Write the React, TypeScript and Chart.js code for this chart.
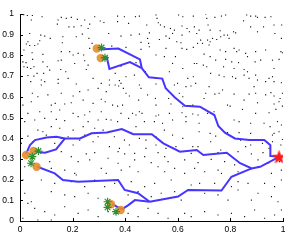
import React, { useEffect, useRef } from "react";
import { Chart, registerables } from "chart.js";
Chart.register(...registerables);

const xTickValues = [0, 0.2, 0.4, 0.6, 0.8, 1];
const yTickValues = [0, 0.1, 0.2, 0.3, 0.4, 0.5, 0.6, 0.7, 0.8, 0.9, 1];

const goal: [number, number][] = [[0.985, 0.31]];

const startCircles: [number, number][] = [
  [0.292, 0.833], [0.307, 0.787], [0.023, 0.319], [0.051, 0.338], [0.063, 0.262], [0.346, 0.081], [0.383, 0.053],
];

const targetMarks: [number, number][] = [
  [0.31, 0.838], [0.323, 0.789], [0.07, 0.338], [0.047, 0.311], [0.042, 0.279], [0.333, 0.093], [0.333, 0.066], [0.365, 0.045],
];

const pathUpperTrunk: [number, number][] = [
  [0.985, 0.31], [0.954, 0.314], [0.952, 0.366], [0.929, 0.391], [0.872, 0.391], [0.817, 0.399], [0.779, 0.427],
  [0.754, 0.459], [0.739, 0.512], [0.684, 0.552], [0.627, 0.557], [0.589, 0.597], [0.554, 0.641], [0.541, 0.688],
  [0.49, 0.694], [0.463, 0.738],
];
const pathA: [number, number][] = [[0.463, 0.738], [0.456, 0.781], [0.374, 0.833], [0.295, 0.829]];
const pathB: [number, number][] = [[0.463, 0.738], [0.418, 0.768], [0.34, 0.734], [0.33, 0.791], [0.308, 0.786]];

const pathMidTrunk: [number, number][] = [
  [0.985, 0.31], [0.913, 0.262], [0.881, 0.254], [0.837, 0.279], [0.786, 0.33], [0.697, 0.319], [0.672, 0.343],
  [0.608, 0.335], [0.545, 0.375], [0.501, 0.419], [0.431, 0.419], [0.387, 0.444], [0.33, 0.428], [0.272, 0.424],
  [0.228, 0.399], [0.171, 0.399],
];
const pathC: [number, number][] = [[0.171, 0.399], [0.139, 0.407], [0.101, 0.403], [0.057, 0.391], [0.038, 0.367], [0.023, 0.324]];
const pathD: [number, number][] = [[0.171, 0.399], [0.137, 0.346], [0.095, 0.33], [0.054, 0.335]];

const pathLowTrunk: [number, number][] = [
  [0.881, 0.254], [0.804, 0.214], [0.766, 0.147], [0.639, 0.15], [0.601, 0.118], [0.493, 0.093],
];
const pathE: [number, number][] = [
  [0.493, 0.093], [0.449, 0.134], [0.398, 0.15], [0.373, 0.198], [0.221, 0.19], [0.163, 0.198], [0.132, 0.23], [0.066, 0.262],
];
const pathF: [number, number][] = [[0.493, 0.093], [0.437, 0.101], [0.412, 0.077], [0.387, 0.056]];
const pathG: [number, number][] = [[0.387, 0.056], [0.351, 0.081]];

const obstacles: [number, number][] = [
  [0.014, 0.997], [0.028, 0.993], [0.047, 0.993], [0.043, 0.971], [0.084, 0.987], [0.145, 0.971], [0.157, 0.984],
  [0.176, 0.979], [0.195, 0.984], [0.218, 0.974], [0.246, 0.971], [0.284, 0.987], [0.305, 0.966], [0.319, 0.959],
  [0.142, 0.951], [0.186, 0.938], [0.205, 0.938], [0.233, 0.943], [0.259, 0.93], [0.265, 0.951], [0.037, 0.906],
  [0.079, 0.898], [0.094, 0.893], [0.115, 0.882], [0.163, 0.89], [0.214, 0.89], [0.237, 0.903], [0.262, 0.882],
  [0.274, 0.858], [0.024, 0.855], [0.037, 0.848], [0.056, 0.848], [0.068, 0.855], [0.075, 0.871], [0.03, 0.866],
  [0.161, 0.861], [0.015, 0.826], [0.046, 0.813], [0.087, 0.805], [0.157, 0.818], [0.189, 0.818], [0.202, 0.802],
  [0.221, 0.81], [0.242, 0.802], [0.265, 0.834], [0.011, 0.769], [0.023, 0.765], [0.048, 0.781], [0.087, 0.769],
  [0.145, 0.774], [0.157, 0.777], [0.208, 0.761], [0.246, 0.774], [0.015, 0.745], [0.028, 0.742], [0.041, 0.737],
  [0.053, 0.745], [0.104, 0.745], [0.113, 0.729], [0.065, 0.713], [0.09, 0.713], [0.155, 0.732], [0.174, 0.721],
  [0.252, 0.732], [0.259, 0.753], [0.03, 0.703], [0.053, 0.7], [0.081, 0.681], [0.145, 0.684], [0.183, 0.689],
  [0.278, 0.689],
  [0.371, 0.99], [0.397, 0.987], [0.439, 0.987], [0.454, 0.99], [0.517, 0.995], [0.521, 0.979], [0.603, 0.995],
  [0.619, 0.987], [0.659, 0.99], [0.371, 0.963], [0.413, 0.955], [0.482, 0.947], [0.526, 0.958], [0.534, 0.947],
  [0.549, 0.938], [0.572, 0.93], [0.587, 0.922], [0.616, 0.942], [0.635, 0.93], [0.663, 0.938], [0.337, 0.906],
  [0.384, 0.893], [0.422, 0.898], [0.454, 0.903], [0.492, 0.909], [0.555, 0.893], [0.58, 0.906], [0.616, 0.898],
  [0.644, 0.914], [0.485, 0.882], [0.46, 0.863], [0.489, 0.858], [0.53, 0.877], [0.568, 0.882], [0.596, 0.866],
  [0.612, 0.861], [0.349, 0.845], [0.403, 0.839], [0.46, 0.829], [0.492, 0.842], [0.517, 0.802], [0.555, 0.834],
  [0.616, 0.834], [0.634, 0.829], [0.659, 0.839], [0.591, 0.794], [0.58, 0.761], [0.619, 0.737], [0.663, 0.761],
  [0.549, 0.794], [0.384, 0.748], [0.441, 0.765], [0.477, 0.721], [0.362, 0.713], [0.403, 0.697], [0.435, 0.705],
  [0.515, 0.689], [0.568, 0.721], [0.638, 0.689], [0.659, 0.697], [0.34, 0.681], [0.378, 0.678],
  [0.706, 1.0], [0.71, 0.979], [0.741, 0.984], [0.766, 0.99], [0.782, 0.995], [0.862, 0.995], [0.877, 0.99],
  [0.896, 0.99], [0.903, 0.984], [0.932, 0.984], [0.954, 0.987], [0.995, 0.947], [0.715, 0.947], [0.85, 0.967],
  [0.877, 0.938], [0.926, 0.938], [0.966, 0.947], [0.681, 0.922], [0.672, 0.906], [0.723, 0.922], [0.761, 0.919],
  [0.776, 0.898], [0.789, 0.898], [0.812, 0.914], [0.82, 0.909], [0.903, 0.914], [0.969, 0.906], [0.687, 0.874],
  [0.694, 0.858], [0.713, 0.874], [0.723, 0.866], [0.732, 0.882], [0.748, 0.877], [0.763, 0.89], [0.795, 0.882],
  [0.994, 0.882], [0.675, 0.858], [0.719, 0.85], [0.761, 0.826], [0.782, 0.818], [0.814, 0.834], [0.824, 0.818],
  [0.833, 0.826], [0.858, 0.81], [0.896, 0.818], [0.934, 0.826], [0.992, 0.818], [0.998, 0.813], [0.7, 0.806],
  [0.723, 0.794], [0.744, 0.777], [0.782, 0.781], [0.805, 0.769], [0.831, 0.765], [0.865, 0.794], [0.894, 0.769],
  [0.915, 0.777], [0.96, 0.777], [0.985, 0.781], [0.672, 0.761], [0.697, 0.753], [0.71, 0.745], [0.774, 0.745],
  [0.814, 0.737], [0.852, 0.732], [0.865, 0.721], [0.966, 0.737], [0.725, 0.713], [0.757, 0.705], [0.776, 0.697],
  [0.808, 0.697], [0.82, 0.689], [0.852, 0.705], [0.871, 0.689], [0.896, 0.705], [0.903, 0.681], [0.947, 0.689],
  [0.96, 0.697],
  [0.041, 0.673], [0.081, 0.657], [0.094, 0.673], [0.145, 0.665], [0.214, 0.662], [0.309, 0.665], [0.047, 0.617],
  [0.068, 0.6], [0.106, 0.609], [0.157, 0.617], [0.202, 0.604], [0.227, 0.625], [0.259, 0.633], [0.297, 0.641],
  [0.328, 0.625], [0.011, 0.56], [0.043, 0.576], [0.119, 0.56], [0.134, 0.568], [0.17, 0.565], [0.195, 0.571],
  [0.24, 0.584], [0.278, 0.568], [0.309, 0.588], [0.324, 0.576], [0.03, 0.52], [0.075, 0.528], [0.119, 0.528],
  [0.151, 0.536], [0.202, 0.52], [0.246, 0.512], [0.265, 0.528], [0.309, 0.528], [0.018, 0.48], [0.056, 0.488],
  [0.094, 0.496], [0.138, 0.491], [0.17, 0.485], [0.221, 0.504], [0.259, 0.48], [0.297, 0.488], [0.328, 0.491],
  [0.068, 0.439], [0.087, 0.431], [0.119, 0.456], [0.151, 0.448], [0.202, 0.439], [0.24, 0.456], [0.284, 0.448],
  [0.316, 0.439], [0.03, 0.41], [0.1, 0.415], [0.157, 0.399], [0.183, 0.407], [0.246, 0.415], [0.297, 0.407],
  [0.005, 0.375], [0.049, 0.383], [0.132, 0.375], [0.202, 0.367], [0.227, 0.391], [0.278, 0.383],
  [0.34, 0.657], [0.362, 0.657], [0.375, 0.652], [0.384, 0.665], [0.393, 0.641], [0.454, 0.657], [0.46, 0.641],
  [0.517, 0.662], [0.587, 0.657], [0.599, 0.665], [0.631, 0.649], [0.65, 0.652], [0.403, 0.617], [0.416, 0.604],
  [0.485, 0.609], [0.515, 0.592], [0.565, 0.592], [0.606, 0.617], [0.619, 0.6], [0.352, 0.56], [0.371, 0.555],
  [0.39, 0.56], [0.451, 0.584], [0.517, 0.56], [0.574, 0.565], [0.619, 0.552], [0.657, 0.56], [0.384, 0.52],
  [0.428, 0.52], [0.441, 0.512], [0.454, 0.528], [0.464, 0.52], [0.413, 0.496], [0.517, 0.507], [0.527, 0.512],
  [0.568, 0.52], [0.616, 0.523], [0.631, 0.504], [0.657, 0.517], [0.346, 0.488], [0.371, 0.48], [0.473, 0.48],
  [0.511, 0.48], [0.542, 0.472], [0.58, 0.488], [0.631, 0.48], [0.359, 0.407], [0.397, 0.391], [0.422, 0.423],
  [0.454, 0.399], [0.479, 0.391], [0.517, 0.407], [0.58, 0.415], [0.619, 0.399], [0.34, 0.359], [0.378, 0.351],
  [0.416, 0.367], [0.479, 0.351], [0.517, 0.367], [0.555, 0.351], [0.593, 0.359], [0.657, 0.359], [0.441, 0.456],
  [0.549, 0.439],
  [0.668, 0.665], [0.719, 0.649], [0.77, 0.633], [0.706, 0.617], [0.741, 0.613], [0.757, 0.617], [0.814, 0.613],
  [0.871, 0.613], [0.89, 0.649], [0.934, 0.673], [0.966, 0.673], [0.994, 0.668], [0.896, 0.617], [0.934, 0.609],
  [0.954, 0.62], [0.966, 0.604], [0.998, 0.617], [0.989, 0.592], [0.985, 0.576], [0.7, 0.592], [0.852, 0.584],
  [0.903, 0.571], [0.789, 0.56], [0.799, 0.555], [0.966, 0.565], [0.998, 0.555], [0.677, 0.512], [0.713, 0.52],
  [0.738, 0.528], [0.846, 0.539], [0.896, 0.52], [0.947, 0.523], [0.973, 0.539], [0.681, 0.472], [0.814, 0.488],
  [0.833, 0.48], [0.877, 0.472], [0.928, 0.472], [0.951, 0.456], [0.979, 0.48], [0.994, 0.464], [0.985, 0.431],
  [0.966, 0.423], [0.96, 0.415], [0.723, 0.423], [0.744, 0.41], [0.789, 0.427], [0.833, 0.427], [0.877, 0.423],
  [0.681, 0.431], [0.725, 0.383], [0.763, 0.343], [0.858, 0.359], [0.877, 0.367], [0.96, 0.383], [0.998, 0.394],
  [0.992, 0.367], [0.677, 0.359], [0.922, 0.375], [0.947, 0.351], [0.839, 0.391],
  [0.157, 0.335], [0.252, 0.324], [0.284, 0.33], [0.373, 0.335], [0.398, 0.324], [0.436, 0.327], [0.525, 0.33],
  [0.55, 0.311], [0.651, 0.327], [0.753, 0.33], [0.829, 0.335], [0.88, 0.324], [0.924, 0.33], [0.113, 0.287],
  [0.195, 0.311], [0.221, 0.287], [0.265, 0.295], [0.335, 0.303], [0.373, 0.279], [0.436, 0.295], [0.474, 0.311],
  [0.499, 0.282], [0.563, 0.287], [0.626, 0.295], [0.677, 0.282], [0.727, 0.298], [0.778, 0.287], [0.816, 0.271],
  [0.905, 0.295], [0.943, 0.279], [0.987, 0.287], [0.018, 0.262], [0.119, 0.254], [0.17, 0.246], [0.208, 0.23],
  [0.214, 0.222], [0.309, 0.254], [0.328, 0.23], [0.385, 0.246], [0.417, 0.262], [0.449, 0.238], [0.525, 0.262],
  [0.55, 0.238], [0.588, 0.254], [0.626, 0.23], [0.664, 0.254], [0.702, 0.238], [0.753, 0.246], [0.766, 0.23],
  [0.829, 0.238], [0.905, 0.262], [0.956, 0.23], [0.994, 0.246], [0.011, 0.198], [0.081, 0.198], [0.132, 0.182],
  [0.195, 0.19], [0.246, 0.166], [0.284, 0.198], [0.322, 0.166], [0.36, 0.182], [0.423, 0.19], [0.474, 0.166],
  [0.512, 0.182], [0.575, 0.198], [0.651, 0.174], [0.683, 0.182], [0.74, 0.182], [0.804, 0.166], [0.829, 0.19],
  [0.867, 0.182], [0.93, 0.182], [0.968, 0.166], [0.994, 0.198], [0.018, 0.134], [0.043, 0.093], [0.119, 0.142],
  [0.17, 0.126], [0.208, 0.118], [0.259, 0.134], [0.297, 0.11], [0.411, 0.126], [0.449, 0.142], [0.499, 0.118],
  [0.537, 0.134], [0.588, 0.142], [0.613, 0.101], [0.702, 0.134], [0.753, 0.126], [0.791, 0.101], [0.829, 0.15],
  [0.88, 0.101], [0.905, 0.134], [0.956, 0.118], [0.981, 0.093], [0.03, 0.085], [0.056, 0.061], [0.094, 0.045],
  [0.132, 0.029], [0.17, 0.069], [0.221, 0.037], [0.259, 0.053], [0.297, 0.021], [0.335, 0.045], [0.411, 0.037],
  [0.449, 0.021], [0.487, 0.061], [0.525, 0.037], [0.563, 0.013], [0.626, 0.037], [0.651, 0.021], [0.702, 0.045],
  [0.753, 0.029], [0.804, 0.037], [0.854, 0.021], [0.892, 0.053], [0.93, 0.013], [0.968, 0.029], [0.994, 0.053],
  [0.011, 0.013], [0.068, 0.005], [0.119, 0.005],
];

const LINE_COLOR = "#4634ff";
const TICK_FONT = { family: "'Liberation Sans Narrow', 'Liberation Sans', sans-serif", size: 8.5 };

function makePentagram(size: number, color: string): HTMLCanvasElement {
  const c = document.createElement("canvas");
  c.width = size;
  c.height = size;
  const g = c.getContext("2d")!;
  const cx = size / 2, cy = size / 2 + 0.6;
  const R = size / 2, r = R * 0.42;
  g.beginPath();
  for (let i = 0; i < 10; i++) {
    const ang = -Math.PI / 2 + (i * Math.PI) / 5;
    const rad = i % 2 === 0 ? R : r;
    const px = cx + rad * Math.cos(ang), py = cy + rad * Math.sin(ang);
    if (i === 0) g.moveTo(px, py); else g.lineTo(px, py);
  }
  g.closePath();
  g.fillStyle = color;
  g.fill();
  return c;
}

const toPts = (arr: [number, number][]) => arr.map(([x, y]) => ({ x, y }));

const inwardTicks = {
  id: "inwardTicks",
  afterDraw(chart: any) {
    const { ctx, chartArea, scales } = chart;
    const xs = scales.x, ys = scales.y;
    ctx.save();
    ctx.strokeStyle = "#000";
    ctx.lineWidth = 1;
    ctx.beginPath();
    xs.ticks.forEach((t: any) => {
      const px = Math.round(xs.getPixelForValue(t.value)) + 0.5;
      ctx.moveTo(px, chartArea.bottom);
      ctx.lineTo(px, chartArea.bottom - 3);
    });
    ys.ticks.forEach((t: any) => {
      const py = Math.round(ys.getPixelForValue(t.value)) + 0.5;
      ctx.moveTo(chartArea.left, py);
      ctx.lineTo(chartArea.left + 3, py);
    });
    ctx.stroke();
    ctx.restore();
  },
};

export default function App() {
  const ref = useRef<HTMLCanvasElement | null>(null);
  useEffect(() => {
    if (!ref.current) return;
    const star = makePentagram(15, "#ff1a1a");
    const lineDs = (data: [number, number][]) => ({
      data: toPts(data),
      showLine: true,
      borderColor: LINE_COLOR,
      borderWidth: 2,
      pointRadius: 0,
      fill: false,
      order: 3,
    });
    const chart = new Chart(ref.current, {
      type: "scatter",
      data: {
        datasets: [
          {
            data: toPts(goal),
            pointStyle: star as any,
            pointRadius: 7,
            order: 0,
          },
          {
            data: toPts(targetMarks),
            pointStyle: "star",
            pointRadius: 4,
            borderColor: "#2f8f2f",
            borderWidth: 1.2,
            backgroundColor: "#2f8f2f",
            order: 1,
          },
          {
            data: toPts(startCircles),
            pointStyle: "circle",
            pointRadius: 4.2,
            borderWidth: 0,
            backgroundColor: "rgba(228,140,40,0.9)",
            order: 2,
          },
          lineDs(pathUpperTrunk),
          lineDs(pathA),
          lineDs(pathB),
          lineDs(pathMidTrunk),
          lineDs(pathC),
          lineDs(pathD),
          lineDs(pathLowTrunk),
          lineDs(pathE),
          lineDs(pathF),
          lineDs(pathG),
          {
            data: toPts(obstacles),
            pointStyle: "rect",
            pointRadius: 0.8,
            borderWidth: 0,
            backgroundColor: "#111",
            order: 4,
          },
        ] as any,
      },
      options: {
        responsive: false,
        animation: false,
        events: [],
        layout: { padding: { top: 14, right: 13, left: 0, bottom: 0 } },
        plugins: { legend: { display: false }, tooltip: { enabled: false } },
        scales: {
          x: {
            type: "linear",
            min: 0,
            max: 1,
            afterBuildTicks: (s: any) => {
              s.ticks = xTickValues.map((v) => ({ value: v }));
            },
            afterFit: (s: any) => {
              s.height = 19;
            },
            grid: { display: false, drawTicks: false },
            border: { display: true, color: "#000", width: 1 },
            ticks: {
              padding: 4,
              color: "#000",
              font: TICK_FONT,
              maxRotation: 0,
              callback: (v: any) => String(Number(Number(v).toFixed(1))),
            },
          },
          y: {
            type: "linear",
            min: 0,
            max: 1,
            afterBuildTicks: (s: any) => {
              s.ticks = yTickValues.map((v) => ({ value: v }));
            },
            afterFit: (s: any) => {
              s.width = 20;
            },
            grid: { display: false, drawTicks: false },
            border: { display: true, color: "#000", width: 1 },
            ticks: {
              padding: 6,
              color: "#000",
              font: TICK_FONT,
              callback: (v: any) => String(Number(Number(v).toFixed(1))),
            },
          },
        },
      },
      plugins: [inwardTicks],
    });
    return () => chart.destroy();
  }, []);
  return (
    <div style={{ position: "absolute", left: 0, top: 0, width: 296, height: 240, background: "#fff" }}>
      <canvas ref={ref} width={296} height={240} style={{ display: "block" }} />
    </div>
  );
}
